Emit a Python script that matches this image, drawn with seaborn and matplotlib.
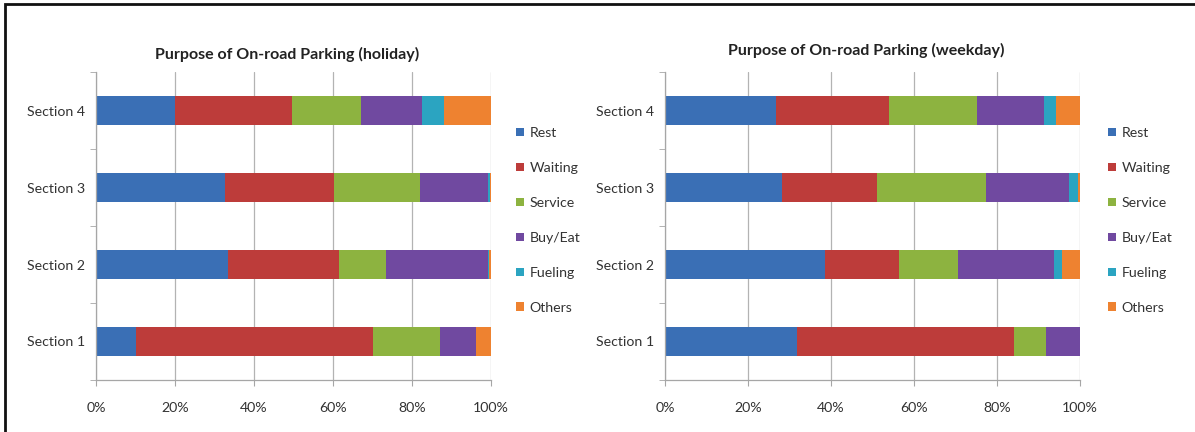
import matplotlib
matplotlib.use("Agg")
import matplotlib.pyplot as plt
import seaborn as sns
import numpy as np
import pandas as pd
from matplotlib.patches import Patch, Rectangle
from matplotlib.ticker import FixedLocator

sns.set_style("white")
plt.rcParams["font.family"] = ["Lato", "DejaVu Sans"]

sections = ["Section 1", "Section 2", "Section 3", "Section 4"]
order = ["Section 4", "Section 3", "Section 2", "Section 1"]
purposes = ["Rest", "Waiting", "Service", "Buy/Eat", "Fueling", "Others"]
xticks = [0, 20, 40, 60, 80, 100]
xtick_labels = ["0%", "20%", "40%", "60%", "80%", "100%"]

# holiday shares (%) per section, Section 1..4
holiday_rest = [10.1, 33.5, 32.7, 20.0]
holiday_waiting = [59.9, 28.1, 27.6, 29.5]
holiday_service = [17.1, 11.8, 21.7, 17.5]
holiday_buyeat = [9.1, 25.9, 17.3, 15.6]
holiday_fueling = [0.0, 0.2, 0.4, 5.5]
holiday_others = [3.8, 0.5, 0.3, 11.9]

# weekday shares (%) per section, Section 1..4
weekday_rest = [31.9, 38.6, 28.2, 26.7]
weekday_waiting = [52.3, 17.9, 23.0, 27.2]
weekday_service = [7.5, 14.0, 26.1, 21.4]
weekday_buyeat = [8.3, 23.2, 20.1, 16.0]
weekday_fueling = [0.0, 2.0, 2.0, 2.8]
weekday_others = [0.0, 4.3, 0.6, 5.9]

colors = {
    "Rest": "#3a6fb5",
    "Waiting": "#bd3c3a",
    "Service": "#8db340",
    "Buy/Eat": "#7049a0",
    "Fueling": "#2ba4c1",
    "Others": "#ee8230",
}

W, H = 1195, 432
fig = plt.figure(figsize=(W / 100, H / 100), dpi=100)
fig.patch.set_facecolor("white")

ax1 = fig.add_axes([96 / W, 1 - 380 / H, (491 - 96) / W, (380 - 72) / H])
ax2 = fig.add_axes([665 / W, 1 - 380 / H, (1080 - 665) / W, (380 - 72) / H])

text_color = "#333333"
spine_color = "#a6a6a6"


def draw(ax, series):
    df = pd.DataFrame(dict(zip(purposes, series)), index=sections)
    cum = df.cumsum(axis=1)
    for p in reversed(purposes):
        d = pd.DataFrame({"section": sections, "value": cum[p].values})
        sns.barplot(data=d, x="value", y="section", order=order, orient="h",
                    color=colors[p], saturation=1, width=0.38, ax=ax,
                    edgecolor="none", linewidth=0, errorbar=None)
    ax.set_xlim(0, 100)
    ax.set_ylim(3.5, -0.5)
    ax.set_xticks(xticks)
    ax.set_xticklabels(xtick_labels)
    ax.set_xlabel("")
    ax.set_ylabel("")
    ax.set_axisbelow(True)
    ax.xaxis.grid(True, color="#b3b3b3", linewidth=0.9)
    ax.yaxis.grid(False)
    for s in ["top", "right"]:
        ax.spines[s].set_visible(False)
    for s in ["left", "bottom"]:
        ax.spines[s].set_color(spine_color)
        ax.spines[s].set_linewidth(0.9)
    ax.tick_params(axis="x", which="major", length=4, color=spine_color,
                   direction="out", pad=12, labelsize=10.2, labelcolor=text_color, bottom=True)
    ax.tick_params(axis="y", which="major", length=0, pad=8, labelsize=10.2,
                   labelcolor=text_color)
    ax.yaxis.set_minor_locator(FixedLocator([-0.5, 0.5, 1.5, 2.5, 3.5]))
    ax.tick_params(axis="y", which="minor", length=4, color=spine_color,
                   direction="out", left=True)


draw(ax1, [holiday_rest, holiday_waiting, holiday_service, holiday_buyeat,
           holiday_fueling, holiday_others])
draw(ax2, [weekday_rest, weekday_waiting, weekday_service, weekday_buyeat,
           weekday_fueling, weekday_others])

fig.text(287 / W, 1 - 54 / H, "Purpose of On-road Parking (holiday)", ha="center",
         va="center", fontsize=11.5, fontweight="bold", color="#222222")
fig.text(866 / W, 1 - 50 / H, "Purpose of On-road Parking (weekday)", ha="center",
         va="center", fontsize=11.5, fontweight="bold", color="#222222")

handles = [Patch(facecolor=colors[p], edgecolor="none", label=p) for p in purposes]
for x0 in (516, 1108):
    fig.legend(handles=handles, loc="upper left",
               bbox_to_anchor=(x0 / W, 1 - 127 / H), frameon=False,
               fontsize=10.2, labelcolor=text_color, handlelength=0.55,
               handleheight=0.55, handletextpad=0.4, labelspacing=1.62,
               borderaxespad=0, borderpad=0)

# figure frame (top and left lines)
fig.add_artist(Rectangle((5 / W, -0.5), 2.0, 1.5 - 4 / H, transform=fig.transFigure,
                         fill=False, edgecolor="#111111", linewidth=2, clip_on=False))

fig.savefig("out.png", dpi=100, facecolor="white")
